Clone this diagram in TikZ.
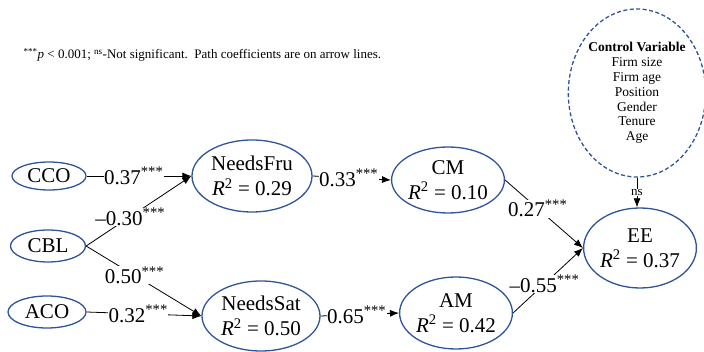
\documentclass[tikz,border=0pt]{standalone}
\usepackage{fontspec}
\setmainfont{Liberation Serif}
\usetikzlibrary{arrows.meta,shapes.geometric}
\definecolor{ovalblue}{RGB}{47,85,151}
\newcommand{\sig}{\textsuperscript{***}}
\newcommand{\rsq}[1]{\textit{R}\textsuperscript{2} = #1}

\begin{document}
\begin{tikzpicture}[
  x=1pt,y=-1pt,
  var/.style={draw=ovalblue, ellipse, line width=1.3pt, inner sep=0pt, align=center, font=\fontsize{21}{25}\selectfont},
  ctrl/.style={var, dash pattern=on 4pt off 2.5pt, font=\fontsize{13.5}{14.8}\selectfont},
  arr/.style={-{Latex[length=9pt,width=7pt]}, line width=0.8pt},
  coef/.style={fill=white, inner sep=0.3pt, font=\fontsize{21}{22}\selectfont}
]
\useasboundingbox (0,0) rectangle (704,352);
\node[anchor=west, font=\fontsize{13}{14}\selectfont] (note) at (20,55) {\sig\textit{p} < 0.001; \textsuperscript{ns}-Not significant.\ \ Path coefficients are on arrow lines.};
\node[var, minimum width=74pt, minimum height=28pt] (CCO) at (49,176) {CCO};
\node[var, minimum width=75pt, minimum height=32pt] (CBL) at (48,246) {CBL};
\node[var, minimum width=78pt, minimum height=32pt] (ACO) at (47,312) {ACO};
\node[var, minimum width=120pt, minimum height=72pt] (needsfru) at (252,176) {NeedsFru\\\rsq{0.29}};
\node[var, minimum width=118pt, minimum height=70pt] (needssat) at (261,316) {NeedsSat\\\rsq{0.50}};
\node[var, minimum width=100pt, minimum height=66pt] (CM) at (448,180) {CM\\\rsq{0.10}};
\node[var, minimum width=102pt, minimum height=72pt] (AM) at (456,313) {AM\\\rsq{0.42}};
\node[var, minimum width=106pt, minimum height=80pt] (EE) at (640,248) {EE\\\rsq{0.37}};
\node[ctrl, minimum width=136pt, minimum height=168pt] (control) at (637,93) {\textbf{Control Variable}\\Firm size\\Firm age\\Position\\Gender\\Tenure\\Age};
\draw[arr] (CCO.east) -- node[coef, pos=0.45] (c1) {0.37\sig} (needsfru.west);
\draw[arr] (CBL.east) -- node[coef, pos=0.42] (c2) {–0.30\sig} (needsfru.west);
\draw[arr] (CBL.east) -- node[coef, pos=0.42] (c3) {0.50\sig} (needssat.west);
\draw[arr] (ACO.east) -- node[coef, pos=0.45] (c4) {0.32\sig} (needssat.west);
\draw[arr] (needsfru.east) -- node[coef, pos=0.46] (c5) {0.33\sig} (CM.west);
\draw[arr] (needssat.east) -- node[coef, pos=0.46] (c6) {0.65\sig} (AM.west);
\draw[arr] (CM.east) -- node[coef, pos=0.42] (c7) {0.27\sig} (EE.west);
\draw[arr] (AM.east) -- node[coef, pos=0.45] (c8) {–0.55\sig} (EE.west);
\draw[arr] (control.south) -- node[coef, font=\fontsize{13}{14}\selectfont] (c9) {ns} (control.south |- EE.north);
\end{tikzpicture}
\end{document}
